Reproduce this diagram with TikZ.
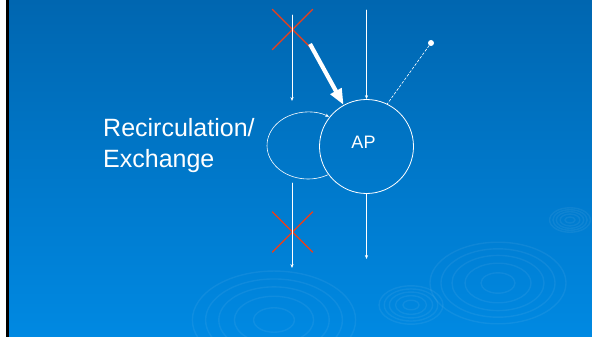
\documentclass[tikz,border=0pt]{standalone}
\usepackage{fontspec}
\setmainfont{Liberation Sans}
\usetikzlibrary{arrows.meta,shapes.misc}
\definecolor{slidetop}{RGB}{0,102,176}
\definecolor{slidebottom}{RGB}{0,137,226}
\definecolor{crossred}{RGB}{240,62,22}

\begin{document}
\begin{tikzpicture}[line cap=round,line join=round,x=1pt,y=-1pt,
    flow/.style={draw=white,line width=0.6pt,-{Stealth[length=4pt,width=3.2pt]}},
    bigflow/.style={draw=white,line width=4.2pt,line cap=butt,-{Triangle[length=16pt,width=12pt]}},
    dashflow/.style={draw=white,line width=0.6pt,dash pattern=on 2.6pt off 1.8pt},
    blockmark/.style={cross out,draw=crossred,line width=1.4pt,minimum width=39pt,minimum height=39pt,inner sep=0pt},
    apcircle/.style={circle,draw=white,line width=0.8pt,minimum size=94pt,inner sep=0pt},
    srcdot/.style={circle,fill=white,minimum size=6pt,inner sep=0pt},
    slidetext/.style={text=white,anchor=base west,inner sep=0pt,font=\fontsize{25}{30}\selectfont},
    ripple/.style={draw=white,draw opacity=0.06,line width=1.4pt}]
  \useasboundingbox (0,0) rectangle (592,337);
  % slide background
  \fill[white] (0,0) rectangle (6,337);
  \fill[black] (6,0) rectangle (9,337);
  \shade[top color=slidetop,bottom color=slidebottom] (9,0) rectangle (592,337);
  \begin{scope}
    \clip (9,0) rectangle (592,337);
    \foreach \cx/\cy/\s in {498/283/1,274/320/1.2,411/305/0.47,570/220/0.3}
      \foreach \r in {68,57,46,33,17}
        \draw[ripple] (\cx,\cy) ellipse [x radius=\s*\r,y radius=0.6*\s*\r];
  \end{scope}

  % nodes
  \node[apcircle] (AP) at (366.5,146.5) {};
  \node[text=white,font=\fontsize{18}{20}\selectfont,inner sep=0pt] (aplabel) at (363.5,142.5) {AP};
  \node[srcdot] (src) at (431,43) {};
  \node[blockmark] (crosstop) at (292.5,29.5) {};
  \node[blockmark] (crossbot) at (292.5,232) {};
  \node[slidetext] (recline1) at (103,136) {Recirculation/};
  \node[slidetext] (recline2) at (103,167) {Exchange};

  \coordinate (ltop) at (292,15);
  \coordinate (lin) at (292,101);
  \coordinate (lbot) at (292,183);
  \coordinate (lout) at (292,268);
  \coordinate (mtop) at (366.5,10);
  \coordinate (apout) at (366.5,259);
  \coordinate (thickstart) at (310,44);
  \coordinate (recstart) at (327.9,174.8);

  % connectors
  \draw[flow] (ltop) -- (lin);
  \draw[flow] (lbot) -- (lout);
  \draw[flow] (mtop) -- (AP.north);
  \draw[flow] (AP.south) -- (apout);
  \draw[dashflow] (src) -- (AP.64);
  \draw[flow] (recstart) arc[start angle=61,end angle=301,x radius=41,y radius=33.5];
  \draw[bigflow] (thickstart) -- (AP);
\end{tikzpicture}
\end{document}
